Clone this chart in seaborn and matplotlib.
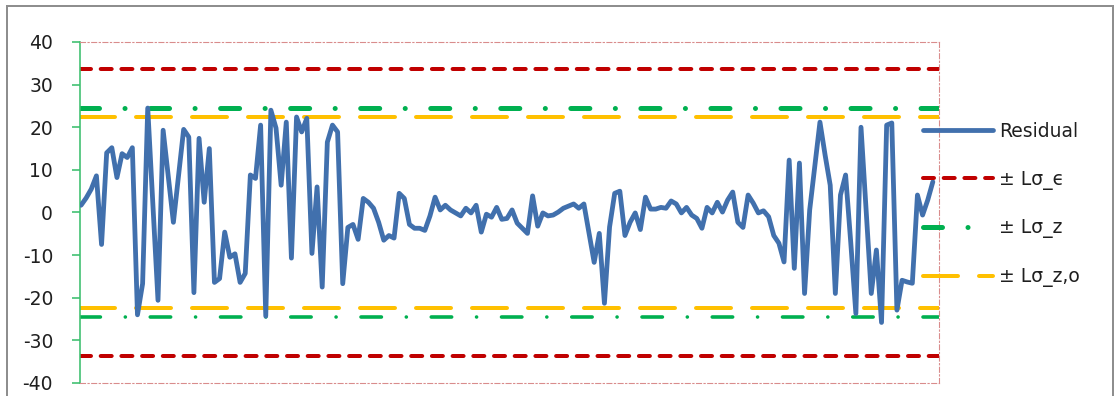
import numpy as np
import pandas as pd
import matplotlib
matplotlib.use("Agg")
import matplotlib.pyplot as plt
import seaborn as sns
from matplotlib.patches import Rectangle

# Residual series (one value per sample)
residual = [
    1.7, 3.4, 5.5, 8.6, -7.5, 14.0, 15.2, 8.2, 13.8, 12.9,
    15.2, -24.0, -16.7, 24.5, 2.0, -20.6, 19.3, 8.5, -2.3, 8.6,
    19.5, 17.7, -18.8, 17.4, 2.4, 15.0, -16.4, -15.5, -4.6, -10.5,
    -9.7, -16.4, -14.3, 8.8, 8.0, 20.5, -24.3, 24.0, 19.8, 6.4,
    21.2, -10.7, 22.4, 18.9, 22.1, -9.6, 6.0, -17.5, 16.5, 20.5,
    18.9, -16.7, -3.5, -2.8, -6.3, 3.3, 2.4, 1.0, -2.3, -6.5,
    -5.4, -6.0, 4.5, 3.3, -2.8, -3.7, -3.7, -4.2, -0.8, 3.6,
    0.6, 1.7, 0.6, -0.1, -0.8, 1.0, -0.1, 1.7, -4.6, -0.4,
    -1.1, 1.2, -1.6, -1.4, 0.6, -2.5, -3.7, -4.9, 3.9, -3.2,
    -0.1, -0.8, -0.6, 0.1, 1.0, 1.5, 2.0, 1.0, 2.0, -4.9,
    -11.7, -4.9, -21.3, -3.4, 4.5, 5.0, -5.4, -2.3, -0.1, -4.0,
    3.6, 0.8, 0.8, 1.2, 1.0, 2.7, 2.0, -0.1, 1.2, -0.6,
    -1.4, -3.7, 1.2, -0.1, 2.4, 0.1, 2.9, 4.8, -2.3, -3.5,
    4.1, 2.2, -0.1, 0.4, -1.0, -5.4, -7.2, -11.6, 12.3, -13.1,
    11.6, -19.0, 0.6, 11.0, 21.2, 13.5, 6.4, -19.0, 4.1, 8.8,
    -7.0, -23.7, 20.0, 0.5, -19.0, -8.8, -25.8, 20.5, 21.0, -22.9,
    -15.9, -16.3, -16.6, 4.1, -0.6, 2.9, 7.2,
]
sample = np.arange(len(residual))

# Control limits
lim_eps = 33.7
lim_z = 24.6
lim_zo = 22.4

y_ticks = [-40, -30, -20, -10, 0, 10, 20, 30, 40]
labels = ["Residual", "\u00b1 L\u03c3_\u03f5", "\u00b1 L\u03c3_z", "\u00b1 L\u03c3_z,o"]

sns.set_style("white")
plt.rcParams["font.family"] = ["DejaVu Sans"]
plt.rcParams["lines.scale_dashes"] = False
plt.rcParams["axes.unicode_minus"] = False

W, H, DPI = 1118, 396, 100
PX = 72.0 / DPI  # points per pixel
FS = 13.5        # font size in points
FS_PX = FS / PX

C_RES = "#4170AD"
C_EPS = "#C00000"
C_Z = "#00B050"
C_ZO = "#FFC000"
C_AXIS = "#3CBF6E"
C_FRAME = "#D98C8C"
C_TEXT = "#1F1F1F"

df = pd.DataFrame({"sample": sample, "residual": residual})

fig = plt.figure(figsize=(W / DPI, H / DPI), dpi=DPI)
ax = fig.add_axes([80 / W, 13 / H, 859 / W, 341 / H])


def dashes(lw_px, pattern_px):
    """Dash pattern given in drawn pixels, corrected for round caps."""
    out = []
    for i, v in enumerate(pattern_px):
        if i % 2 == 0:
            out.append(max(v - lw_px, 0.05) * PX)
        else:
            out.append((v + lw_px) * PX)
    return (0, tuple(out))


def limit_line(y, color, lw_px, pattern_px, label=None):
    ax.axhline(y, color=color, lw=lw_px * PX, linestyle=dashes(lw_px, pattern_px),
               dash_capstyle="round", label=label, zorder=2)


# Limit lines
limit_line(lim_eps, C_EPS, 4, [15, 5.7], label=labels[1])
limit_line(-lim_eps, C_EPS, 4, [15, 5.7])
limit_line(lim_z, C_Z, 5, [24, 20.5, 4, 20.5], label=labels[2])
limit_line(-lim_z, C_Z, 3.6, [24, 21.3, 3.6, 21.3])
limit_line(lim_zo, C_ZO, 4, [39, 17], label=labels[3])
limit_line(-lim_zo, C_ZO, 4, [39, 17])

# Residual trace
sns.lineplot(data=df, x="sample", y="residual", ax=ax, color=C_RES,
             lw=4.8 * PX, label=labels[0], zorder=3, legend=False)

ax.set_xlim(-0.2, len(residual) - 1 + 1.2)
ax.set_ylim(-40, 40)
ax.set_yticks(y_ticks)
ax.set_xticks([])
ax.set_xlabel("")
ax.set_ylabel("")

# Axis styling
ax.spines["left"].set_color(C_AXIS)
ax.spines["left"].set_linewidth(1.6 * PX)
for side in ["top", "right", "bottom"]:
    sp = ax.spines[side]
    sp.set_visible(True)
    sp.set_color(C_FRAME)
    sp.set_linewidth(1.1 * PX)
    sp.set_linestyle((0, (5 * PX, 2.5 * PX, 1.2 * PX, 2.5 * PX)))
ax.tick_params(axis="y", direction="out", length=8 * PX, width=1.6 * PX,
               color=C_AXIS, pad=19 * PX, labelsize=FS, labelcolor=C_TEXT,
               left=True)

# Legend
handles, labs = ax.get_legend_handles_labels()
order = [labs.index(l) for l in labels]
fig.legend([handles[i] for i in order], [labs[i] for i in order],
           loc="center left", bbox_to_anchor=(923 / W, 1 - 204.5 / H),
           bbox_transform=fig.transFigure, frameon=False, fontsize=FS,
           borderpad=0, borderaxespad=0, handlelength=70 / FS_PX,
           handletextpad=6 / FS_PX, labelspacing=1.54, labelcolor=C_TEXT)

# Chart border
fig.patches.append(Rectangle((6.5 / W, -0.05), (1113 - 6.5) / W, 1.05 - 6 / H,
                             transform=fig.transFigure, fill=False,
                             edgecolor="#8E8E8E", lw=2 * PX, zorder=10))

fig.savefig("out.png", dpi=DPI)
